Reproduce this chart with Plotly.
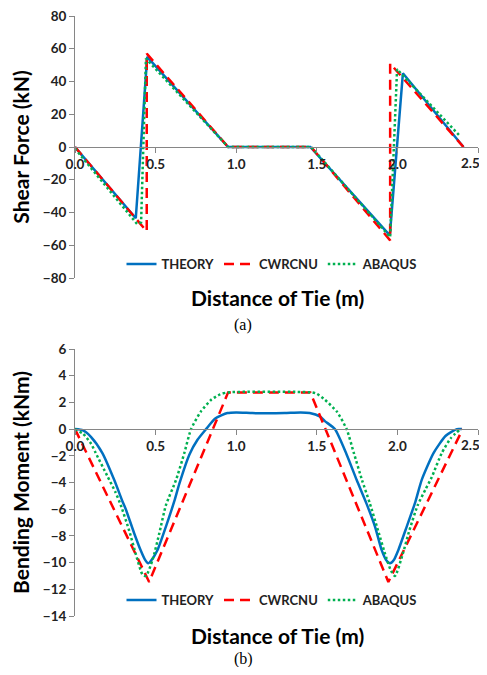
import plotly.graph_objects as go

# ---------------- data ----------------
series_names = ["THEORY", "CWRCNU", "ABAQUS"]

# (a) shear force (kN) vs distance of tie (m)
sf_theory_x = [0, 0.377, 0.448, 0.95, 1.46, 1.953, 2.034, 2.41]
sf_theory_y = [0, -43.5, 55, 0, 0, -54, 45, 0]
sf_cwrcnu_x = [0, 0.445, 0.445, 0.95, 1.465, 1.955, 1.955, 2.41]
sf_cwrcnu_y = [0, -51.5, 57, 0, 0, -57, 51, 0]
sf_abaqus_x = [0, 0.385, 0.41, 0.44, 0.95, 1.465, 1.955, 1.998, 2.39]
sf_abaqus_y = [-1, -47, -46, 54, 0, 0, -55, 47.5, 6.5]

# (b) bending moment (kNm) vs distance of tie (m)
bm_theory_x = [0, 0.05, 0.1, 0.17, 0.243, 0.294, 0.315, 0.367, 0.408, 0.435, 0.454,
               0.475, 0.512, 0.564, 0.616, 0.647, 0.71, 0.76, 0.813, 0.87, 0.946,
               1.0, 1.1, 1.2, 1.3, 1.4, 1.456, 1.518, 1.55, 1.612, 1.685, 1.747,
               1.809, 1.861, 1.902, 1.93, 1.954, 1.978, 2.006, 2.058, 2.11, 2.151,
               2.224, 2.3, 2.369, 2.40]
bm_theory_y = [0, -0.1, -0.6, -1.8, -3.8, -5.4, -6.0, -7.8, -9.1, -9.8, -10.05,
               -9.8, -9.05, -7.3, -5.4, -4.1, -1.9, -0.8, 0, 0.8, 1.2,
               1.25, 1.2, 1.18, 1.2, 1.25, 1.2, 0.95, 0.6, 0, -1.9, -3.8,
               -5.6, -7.3, -9.05, -9.8, -10.05, -9.8, -9.05, -7.3, -5.5, -3.8,
               -1.8, -0.5, 0, 0]
bm_cwrcnu_x = [0, 0.46, 0.95, 1.46, 1.944, 2.405]
bm_cwrcnu_y = [0, -11.45, 2.75, 2.75, -11.45, 0]
bm_abaqus_x = [0, 0.05, 0.1, 0.129, 0.2, 0.25, 0.284, 0.336, 0.378, 0.419, 0.44,
               0.481, 0.523, 0.564, 0.627, 0.678, 0.72, 0.78, 0.845, 0.9, 0.95,
               1.47, 1.5, 1.55, 1.625, 1.685, 1.73, 1.78, 1.83, 1.88, 1.93, 1.96,
               1.985, 2.032, 2.074, 2.126, 2.175, 2.213, 2.275, 2.33, 2.39]
bm_abaqus_y = [0, -0.35, -1.1, -1.8, -3.5, -4.7, -5.7, -7.6, -9.4, -10.9, -11.0,
               -9.8, -7.8, -5.7, -3.8, -1.8, 0, 1.3, 2.2, 2.6, 2.75,
               2.75, 2.65, 2.2, 1.3, 0, -1.8, -3.8, -5.6, -7.6, -9.6, -10.6,
               -11.0, -9.4, -7.6, -5.7, -4.5, -3.6, -1.8, -0.7, 0]

x_ticks = [0.0, 0.5, 1.0, 1.5, 2.0, 2.5]
x_ticktext = ["0.0", "0.5", "1.0", "1.5", "2.0", "2.5"]
sf_ticks = [-80, -60, -40, -20, 0, 20, 40, 60, 80]
bm_ticks = [-14, -12, -10, -8, -6, -4, -2, 0, 2, 4, 6]

# ---------------- styling ----------------
FONT = "Lato"
styles = {
    "THEORY": dict(color="#0070C0", width=2.5, dash="solid"),
    "CWRCNU": dict(color="#FF0000", width=2.5, dash="10px,6px"),
    "ABAQUS": dict(color="#00B050", width=2.5, dash="2.5px,2.5px"),
}

OFF = 8                      # page body margin offset
PW, PHT = 487, 675           # page size
W, H = PW - OFF, PHT - 2 * OFF   # figure size (no vertical page overflow)
ML, MR, MT, MB = 75 - OFF, 9, 16 - OFF, (PHT - 2 * OFF) - (616 - OFF)
PH = H - MT - MB
top_dom = [(PH - 262) / PH, 1.0]
bot_dom = [0.0, (PH - 333) / PH]
sf_range = [-80, 80]
bm_range = [-14, 6]


def zero_pos(dom, rng):
    return dom[0] + (dom[1] - dom[0]) * (0 - rng[0]) / (rng[1] - rng[0])


def px_to_paper_y(py):   # page pixel -> paper
    return (H - MB - (py - OFF)) / PH


def px_to_paper_x(pxv):
    return (pxv - OFF - ML) / (W - ML - MR)


fig = go.Figure()
top_data = [(sf_theory_x, sf_theory_y), (sf_cwrcnu_x, sf_cwrcnu_y), (sf_abaqus_x, sf_abaqus_y)]
bot_data = [(bm_theory_x, bm_theory_y), (bm_cwrcnu_x, bm_cwrcnu_y), (bm_abaqus_x, bm_abaqus_y)]
for name, (xs, ys) in zip(series_names, top_data):
    fig.add_trace(go.Scatter(x=xs, y=ys, mode="lines", name=name, line=styles[name],
                             xaxis="x", yaxis="y", legend="legend"))
for name, (xs, ys) in zip(series_names, bot_data):
    ln = dict(styles[name])
    if name != "CWRCNU":
        ln.update(shape="spline", smoothing=0.6)
    fig.add_trace(go.Scatter(x=xs, y=ys, mode="lines", name=name, line=ln,
                             xaxis="x2", yaxis="y2", legend="legend2"))

AX = "#868686"
xtickfont = dict(family=FONT, size=13.5, color="#222222", weight="bold")
ytickfont = dict(family=FONT, size=13.5, color="#222222", weight="bold")
# last label ("2.5") is written as an annotation nudged left so it stays on the page
xcommon = dict(range=[0, 2.5], tickvals=x_ticks, ticktext=x_ticktext[:-1] + [""],
               showline=True,
               linecolor=AX, linewidth=1, ticks="outside", ticklen=5, tickcolor=AX,
               showgrid=False, zeroline=False, tickfont=xtickfont, anchor="free",
               ticklabeloverflow="allow", automargin=False)
ycommon = dict(showline=True, linecolor=AX, linewidth=1, ticks="outside", ticklen=5,
               tickcolor=AX, showgrid=False, zeroline=False, tickfont=ytickfont,
               title_font=dict(family=FONT, size=21, color="#000000", weight="bold"),
               title_standoff=8, automargin=False, ticklabeloverflow="allow")

legend_common = dict(orientation="h", xanchor="center", yanchor="middle",
                     font=dict(family=FONT, size=13, color="#222222", weight="bold"),
                     bgcolor="rgba(0,0,0,0)", itemwidth=30, tracegroupgap=0)

fig.update_layout(
    width=W, height=H,
    margin=dict(l=ML, r=MR, t=MT, b=MB, autoexpand=False),
    paper_bgcolor="white", plot_bgcolor="white",
    showlegend=True,
    xaxis=dict(domain=[0, 1], position=zero_pos(top_dom, sf_range), **xcommon),
    xaxis2=dict(domain=[0, 1], position=zero_pos(bot_dom, bm_range), **xcommon),
    yaxis=dict(domain=top_dom, range=sf_range, tickvals=sf_ticks, anchor="x",
               title_text="Shear Force (kN)", **ycommon),
    yaxis2=dict(domain=bot_dom, range=bm_range, tickvals=bm_ticks, anchor="x2",
                title_text="Bending Moment (kNm)", **ycommon),
    legend=dict(x=px_to_paper_x(272), y=px_to_paper_y(264), **legend_common),
    legend2=dict(x=px_to_paper_x(272), y=px_to_paper_y(600), **legend_common),
)

# last x tick label of each panel, at x=2.5 just below y=0
for xr, yr in (("x", "y"), ("x2", "y2")):
    fig.add_annotation(x=x_ticks[-1], y=0, xref=xr, yref=yr, text=x_ticktext[-1],
                       showarrow=False, xanchor="center", yanchor="top", yshift=-6,
                       xshift=-8, font=xtickfont)

title_font = dict(family=FONT, size=21, color="#000000", weight="bold")
cap_font = dict(family="Liberation Serif", size=16, color="#000000")
annots = [
    dict(text="Distance of Tie (m)", x=px_to_paper_x(277), y=px_to_paper_y(297), font=title_font),
    dict(text="Distance of Tie (m)", x=px_to_paper_x(277), y=px_to_paper_y(635), font=title_font),
    dict(text="(a)", x=px_to_paper_x(243), y=px_to_paper_y(325), font=cap_font),
    dict(text="(b)", x=px_to_paper_x(243), y=px_to_paper_y(659), font=cap_font),
]
for a in annots:
    fig.add_annotation(xref="paper", yref="paper", showarrow=False,
                       xanchor="center", yanchor="middle", **a)

fig.write_html("out.html")
